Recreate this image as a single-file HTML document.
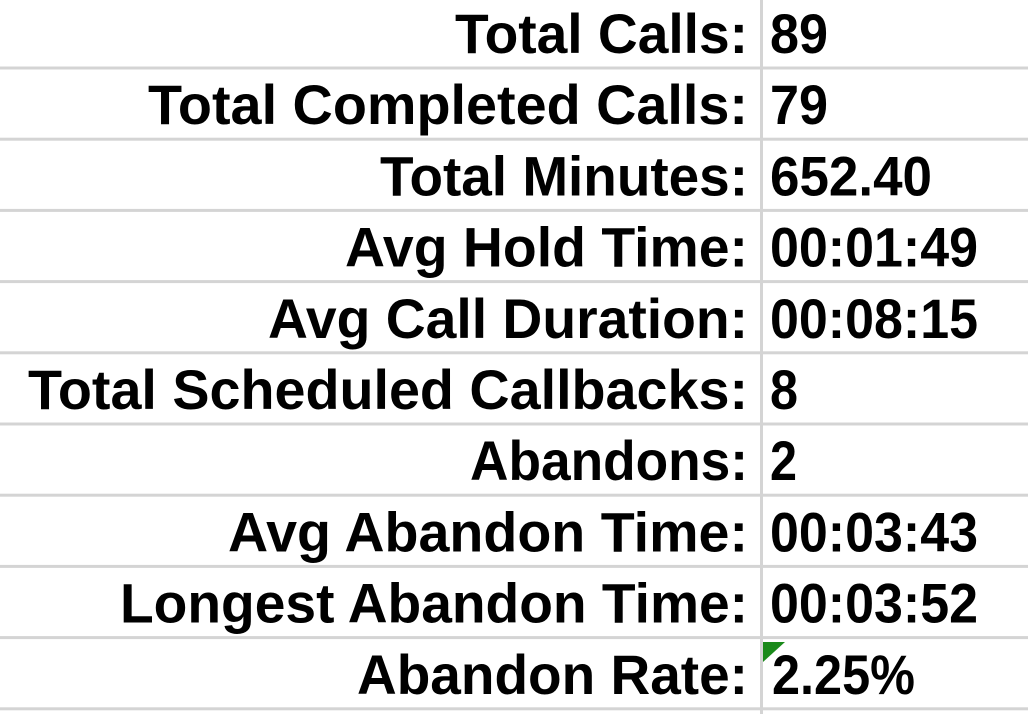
<!DOCTYPE html>
<html><head><meta charset="utf-8"><style>
html,body{margin:0;padding:0;background:#fff;width:1028px;height:714px;overflow:hidden}
svg{display:block}
text{font-family:"Liberation Sans",Arial,sans-serif;font-weight:bold;font-size:56px;fill:#000}
</style></head><body>
<svg id="tbl" width="1028" height="714" viewBox="0 0 1028 714" xmlns="http://www.w3.org/2000/svg">
<rect x="0" y="0" width="1028" height="714" fill="#fff"/>
<rect x="760" y="0" width="3" height="714" fill="#d4d4d4"/>
</svg>
<script>
const labels=["Total Calls:","Total Completed Calls:","Total Minutes:","Avg Hold Time:","Avg Call Duration:","Total Scheduled Callbacks:","Abandons:","Avg Abandon Time:","Longest Abandon Time:","Abandon Rate:"];
const values=["89","79","652.40","00:01:49","00:08:15","8","2","00:03:43","00:03:52","2.25%"];
const labelStarts=[455,148,380,345,268,28,470,228,120,357];
const valueEnds=[828,828,932,978,978,798,797,978,978,915];
const NS="http://www.w3.org/2000/svg";
const svg=document.getElementById('tbl');
for(let i=0;i<labels.length;i++){
  const lineY=68+71.2*i;
  const ln=document.createElementNS(NS,'rect');
  ln.setAttribute('x',0);ln.setAttribute('y',lineY-1.5);ln.setAttribute('width',1028);ln.setAttribute('height',3);ln.setAttribute('fill','#d4d4d4');
  
  
  svg.appendChild(ln);
  const base=lineY-15;
  const t=document.createElementNS(NS,'text');
  t.setAttribute('x',labelStarts[i]);t.setAttribute('y',base);
  t.setAttribute('textLength',748-labelStarts[i]);t.setAttribute('lengthAdjust','spacingAndGlyphs');
  t.textContent=labels[i];
  
  
  svg.appendChild(t);
  const vx=i===9?772:770;
  const v=document.createElementNS(NS,'text');
  v.setAttribute('x',vx);v.setAttribute('y',base);
  v.setAttribute('textLength',valueEnds[i]-vx);v.setAttribute('lengthAdjust','spacingAndGlyphs');
  v.textContent=values[i];
  
  
  svg.appendChild(v);
}
const tri=document.createElementNS(NS,'polygon');
tri.setAttribute('points','763,642 785,642 763,662');
tri.setAttribute('fill','#1a8a1a');


svg.appendChild(tri);
</script>
</body></html>
